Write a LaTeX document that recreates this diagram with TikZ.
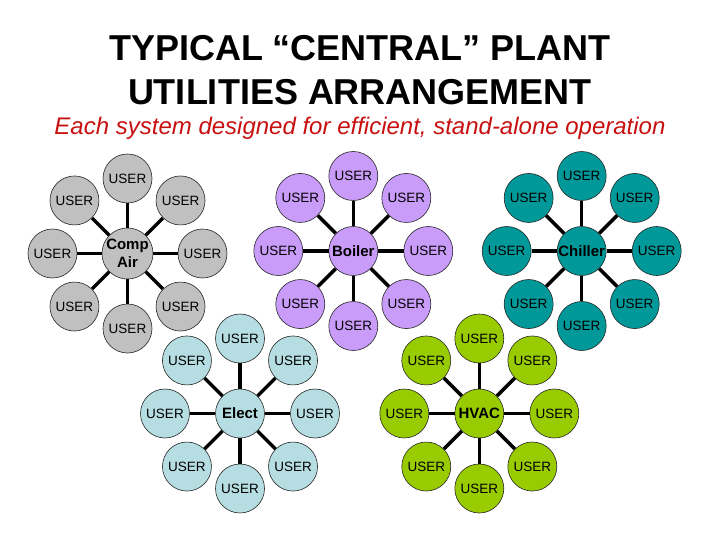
\documentclass[tikz,border=0pt]{standalone}
\usepackage{fontspec}
\setmainfont{Liberation Sans}
\usetikzlibrary{calc}
\definecolor{cgray}{RGB}{192,192,192}
\definecolor{clilac}{RGB}{202,156,250}
\definecolor{cteal}{RGB}{0,152,152}
\definecolor{cice}{RGB}{182,222,226}
\definecolor{clime}{RGB}{153,204,0}
\definecolor{csub}{RGB}{200,16,16}
\tikzset{
  disc/.style={circle, draw=black!85, line width=0.6pt, minimum size=49pt, inner sep=0pt},
  user/.style={disc, font=\fontsize{13.5}{16}\selectfont},
  hub/.style={disc, font=\fontsize{15}{18}\selectfont\bfseries, align=center},
  link/.style={line width=3.5pt, black},
  titletext/.style={font=\fontsize{36}{44}\selectfont\bfseries, align=center},
  subtext/.style={font=\fontsize{24}{28}\selectfont\itshape, text=csub}
}
\newcommand{\hubcluster}[5]{%
  \node[hub, fill=#4] (#1) at (#2,#3) {#5};
  \foreach \a [count=\i] in {90,45,0,-45,-90,-135,180,135} {
    \node[user, fill=#4] (#1u\i) at ($(#1)+(\a:75)$) {USER};
    \draw[link] (#1) -- (#1u\i);
  }
}
\begin{document}
\begin{tikzpicture}[x=1pt,y=-1pt]
\useasboundingbox (0,0) rectangle (720,540);
\node[titletext] (title) at (360,70) {TYPICAL “CENTRAL” PLANT\\UTILITIES ARRANGEMENT};
\node[subtext] (sub) at (360,128) {Each system designed for efficient, stand-alone operation};
\hubcluster{comp}{127.5}{253.5}{cgray}{Comp\\Air}
\hubcluster{boil}{353.3}{251}{clilac}{Boiler}
\hubcluster{chil}{581.7}{251}{cteal}{Chiller}
\hubcluster{elec}{240}{413.5}{cice}{Elect}
\hubcluster{hvac}{479.3}{413.5}{clime}{HVAC}
\end{tikzpicture}
\end{document}
